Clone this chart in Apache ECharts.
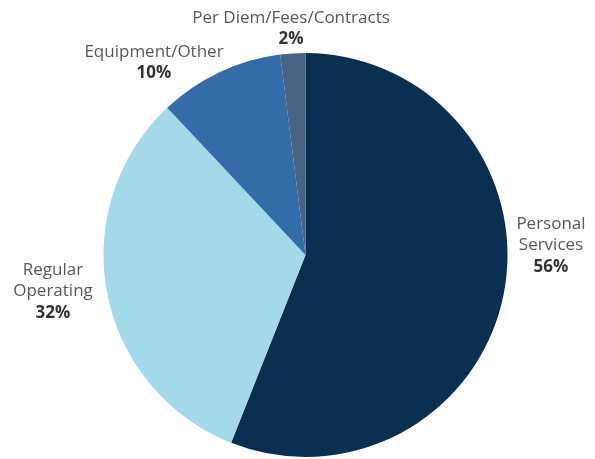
<!DOCTYPE html>
<html><head><meta charset="utf-8">
<script src="https://cdn.jsdelivr.net/npm/echarts@6/dist/echarts.min.js"></script>
<style>html,body{margin:0;padding:0;background:#fff}#c{width:595px;height:459px}</style>
</head><body><div id="c"></div>
<script>
const categories = ['Personal Services', 'Regular Operating', 'Equipment/Other', 'Per Diem/Fees/Contracts'];
const labelNames = ['Personal\nServices', 'Regular\nOperating', 'Equipment/Other', 'Per Diem/Fees/Contracts'];
const values = [56, 32, 10, 2];
const colors = ['#0b2f51', '#a3d9e8', '#336ca6', '#4a6384'];
// label anchor positions (layout only)
const labelPos = [[551, 213], [53, 259], [154, 41], [291, 7]];

const chart = echarts.init(document.getElementById('c'), null, {renderer: 'canvas'});
chart.setOption({
  animation: false,
  series: [{
    type: 'pie',
    center: [305.5, 255],
    radius: [0, 202],
    startAngle: 90,
    clockwise: true,
    avoidLabelOverlap: false,
    labelLine: {show: false},
    data: categories.map((n, i) => ({
      name: n,
      value: values[i],
      itemStyle: {color: colors[i]},
      label: {
        show: true,
        position: 'outside',
        formatter: labelNames[i] + '\n{b|' + values[i] + '%}',
        fontFamily: 'Open Sans',
        fontSize: 17,
        color: '#595959',
        lineHeight: 21.5,
        align: 'center',
        rich: {
          b: {fontFamily: 'Open Sans', fontSize: 17, fontWeight: 'bold', color: '#333333', lineHeight: 21.5}
        }
      }
    })),
    labelLayout: function (p) {
      const pos = labelPos[p.dataIndex];
      return {x: pos[0], y: pos[1], align: 'center', verticalAlign: 'top'};
    }
  }]
});
</script></body></html>
